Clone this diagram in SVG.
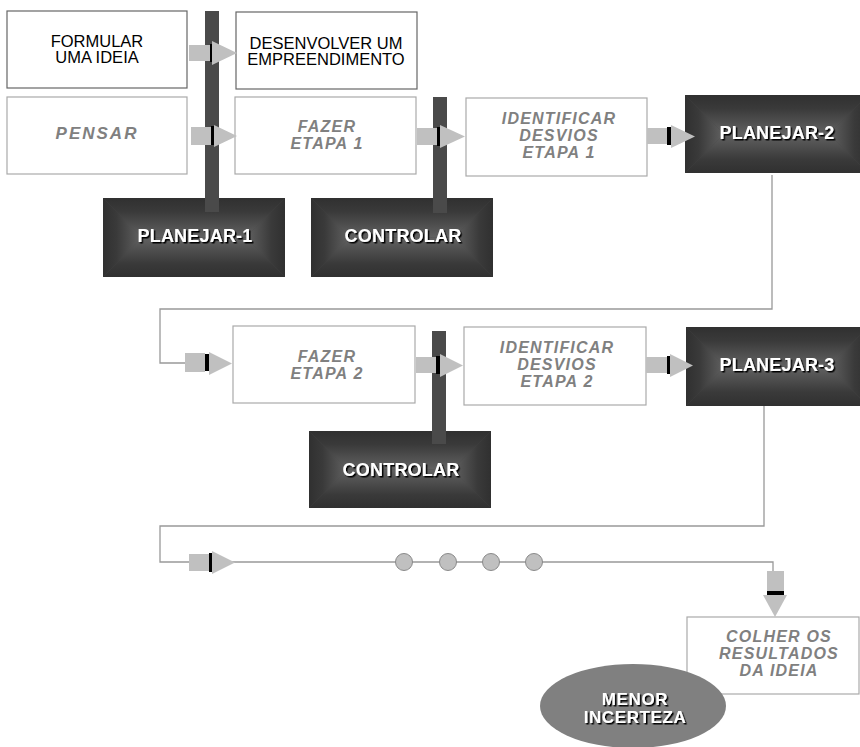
<svg xmlns="http://www.w3.org/2000/svg" width="860" height="747" viewBox="0 0 860 747">
  <style>
    .box-solid { fill: #ffffff; stroke: #666666; stroke-width: 1.2; }
    .box-light { fill: #ffffff; stroke: #aaaaaa; stroke-width: 1.2; }
    .t-plain { font-family: "Liberation Sans", Arial, sans-serif; font-size: 16.5px; fill: #000000; text-anchor: middle; }
    .t-step { font-family: "Liberation Sans", Arial, sans-serif; font-size: 16px; font-weight: bold; font-style: italic; fill: #808080; letter-spacing: 1.2px; text-anchor: middle; }
    .t-dark { font-family: "Liberation Sans", Arial, sans-serif; font-size: 18px; font-weight: bold; fill: #ffffff; letter-spacing: 0.2px; text-anchor: middle; filter: url(#shadow); }
    .wire { fill: none; stroke: #999999; stroke-width: 1.3; }
    .shaft { fill: #c0c0c0; }
    .stop { fill: #000000; }
    .head { fill: #c0c0c0; }
    .bar { fill: #4a4a4a; }
    .dot { fill: #c0c0c0; stroke: #8a8a8a; stroke-width: 1; }
  </style>
  <defs>
    <filter id="shadow" x="-10%" y="-30%" width="130%" height="170%">
      <feDropShadow dx="1.5" dy="1.5" stdDeviation="0.3" flood-color="#000000" flood-opacity="1"/>
    </filter>
    <!-- rectangular (pyramid) shading: four facets fading from the edges to the centre -->
    <linearGradient id="gTop" gradientUnits="userSpaceOnUse" x1="0" y1="0" x2="0" y2="39">
      <stop offset="0" stop-color="#303030"/><stop offset="0.35" stop-color="#3a3a3a"/><stop offset="1" stop-color="#626262"/>
    </linearGradient>
    <linearGradient id="gBot" gradientUnits="userSpaceOnUse" x1="0" y1="78" x2="0" y2="39">
      <stop offset="0" stop-color="#303030"/><stop offset="0.35" stop-color="#3a3a3a"/><stop offset="1" stop-color="#626262"/>
    </linearGradient>
    <linearGradient id="gLeft" gradientUnits="userSpaceOnUse" x1="0" y1="0" x2="39" y2="0">
      <stop offset="0" stop-color="#303030"/><stop offset="0.35" stop-color="#3a3a3a"/><stop offset="1" stop-color="#626262"/>
    </linearGradient>
    <linearGradient id="gRight" gradientUnits="userSpaceOnUse" x1="182" y1="0" x2="143" y2="0">
      <stop offset="0" stop-color="#303030"/><stop offset="0.35" stop-color="#3a3a3a"/><stop offset="1" stop-color="#626262"/>
    </linearGradient>
    <symbol id="darkbox" viewBox="0 0 182 78" preserveAspectRatio="none">
      <rect x="0" y="0" width="182" height="78" fill="#444444"/>
      <polygon points="0,0 182,0 143,39 39,39" fill="url(#gTop)"/>
      <polygon points="0,78 182,78 143,39 39,39" fill="url(#gBot)"/>
      <polygon points="0,0 39,39 0,78" fill="url(#gLeft)"/>
      <polygon points="182,0 143,39 182,78" fill="url(#gRight)"/>
    </symbol>
  </defs>

  <!-- nodes -->
  <g id="formular">
    <rect class="box-solid" x="7" y="11" width="180" height="77"/>
    <text class="t-plain" x="97" y="46.5">FORMULAR<tspan x="97" dy="16.5">UMA IDEIA</tspan></text>
  </g>
  <g id="desenvolver">
    <rect class="box-solid" x="236" y="12" width="181" height="77"/>
    <text class="t-plain" x="326" y="48.5">DESENVOLVER UM<tspan x="326" dy="16.5">EMPREENDIMENTO</tspan></text>
  </g>
  <g id="pensar">
    <rect class="box-light" x="7" y="97" width="180" height="77"/>
    <text class="t-step" x="97" y="139" style="font-size:17px;letter-spacing:2px">PENSAR</text>
  </g>
  <g id="fazer-etapa-1">
    <rect class="box-light" x="235" y="97" width="181" height="77"/>
    <text class="t-step" x="327" y="131.5">FAZER<tspan x="327" dy="17">ETAPA 1</tspan></text>
  </g>
  <g id="identificar-1">
    <rect class="box-light" x="466" y="98" width="181" height="78"/>
    <text class="t-step" x="559" y="124">IDENTIFICAR<tspan x="559" dy="17">DESVIOS</tspan><tspan x="559" dy="17">ETAPA 1</tspan></text>
  </g>
  <g id="planejar-2">
    <use href="#darkbox" x="685" y="95" width="183" height="78"/>
    <text class="t-dark" x="777" y="139">PLANEJAR-2</text>
  </g>
  <g id="planejar-1">
    <use href="#darkbox" x="103" y="198" width="182" height="79"/>
    <text class="t-dark" x="195" y="242">PLANEJAR-1</text>
  </g>
  <g id="controlar-1">
    <use href="#darkbox" x="311" y="198" width="182" height="79"/>
    <text class="t-dark" x="403" y="242">CONTROLAR</text>
  </g>
  <g id="fazer-etapa-2">
    <rect class="box-light" x="233" y="326" width="182" height="77"/>
    <text class="t-step" x="327" y="361.5">FAZER<tspan x="327" dy="17">ETAPA 2</tspan></text>
  </g>
  <g id="identificar-2">
    <rect class="box-light" x="464" y="327" width="182" height="78"/>
    <text class="t-step" x="557" y="353">IDENTIFICAR<tspan x="557" dy="17">DESVIOS</tspan><tspan x="557" dy="17">ETAPA 2</tspan></text>
  </g>
  <g id="planejar-3">
    <use href="#darkbox" x="686" y="327" width="182" height="79"/>
    <text class="t-dark" x="777" y="371">PLANEJAR-3</text>
  </g>
  <g id="controlar-2">
    <use href="#darkbox" x="309" y="431" width="182" height="77"/>
    <text class="t-dark" x="401" y="476">CONTROLAR</text>
  </g>
  <g id="colher">
    <rect class="box-light" x="687" y="617" width="172" height="77"/>
    <text class="t-step" x="779" y="642">COLHER OS<tspan x="779" dy="17">RESULTADOS</tspan><tspan x="779" dy="17">DA IDEIA</tspan></text>
  </g>
  <g id="menor-incerteza">
    <ellipse cx="633" cy="706" rx="93" ry="42" fill="#808080"/>
    <text class="t-dark" x="635" y="704.5" style="font-size:17px;letter-spacing:0.6px">MENOR<tspan x="635" dy="18.5">INCERTEZA</tspan></text>
  </g>

  <!-- connectors -->
  <g id="connectors">
    <!-- return paths between rows -->
    <polyline class="wire" points="772,175 772,309 160,309 160,363 188,363"/>
    <polyline class="wire" points="764,406 764,526 160,526 160,562 773,562 773,580"/>
    <circle class="dot" cx="404" cy="562" r="8.5"/>
    <circle class="dot" cx="448" cy="562" r="8.5"/>
    <circle class="dot" cx="491" cy="562" r="8.5"/>
    <circle class="dot" cx="534" cy="562" r="8.5"/>

    <!-- vertical links from PLANEJAR / CONTROLAR -->
    <rect class="bar" x="205" y="11" width="14" height="201"/>
    <rect class="bar" x="433" y="97" width="14" height="116"/>
    <rect class="bar" x="432" y="331" width="14" height="113"/>

    <!-- block arrows: shaft, stop mark, head -->
    <rect class="shaft" x="189" y="45" width="21" height="16"/>
    <rect class="stop" x="210" y="44" width="3" height="18"/>
    <polygon class="head" points="212,41 237,53 212,65"/>

    <rect class="shaft" x="191" y="127" width="20" height="18"/>
    <rect class="stop" x="211" y="126" width="3" height="19"/>
    <polygon class="head" points="214,125 237,136 214,147"/>

    <rect class="shaft" x="417" y="128" width="20" height="17"/>
    <rect class="stop" x="437" y="127" width="3" height="19"/>
    <polygon class="head" points="440,125 465,136.5 440,148"/>

    <rect class="shaft" x="647" y="128" width="20" height="16"/>
    <rect class="stop" x="667" y="127" width="4" height="18"/>
    <polygon class="head" points="671,125 695,136.5 671,148"/>

    <rect class="shaft" x="185" y="353" width="20" height="19"/>
    <rect class="stop" x="205" y="354" width="4" height="17"/>
    <polygon class="head" points="209,352 232,363.5 209,375"/>

    <rect class="shaft" x="416" y="357" width="20" height="16"/>
    <rect class="stop" x="436" y="356" width="4" height="18"/>
    <polygon class="head" points="440,354 463,365.5 440,377"/>

    <rect class="shaft" x="646" y="357" width="21" height="16"/>
    <rect class="stop" x="667" y="356" width="3" height="18"/>
    <polygon class="head" points="670,354 693,365.5 670,377"/>

    <rect class="shaft" x="189" y="554" width="20" height="17"/>
    <rect class="stop" x="209" y="553" width="3" height="19"/>
    <polygon class="head" points="212,551 235,562.5 212,574"/>

    <rect class="shaft" x="767" y="571" width="17" height="20"/>
    <rect class="stop" x="767" y="591" width="17" height="4"/>
    <polygon class="head" points="763,595 787,595 775,617"/>
  </g>
</svg>
